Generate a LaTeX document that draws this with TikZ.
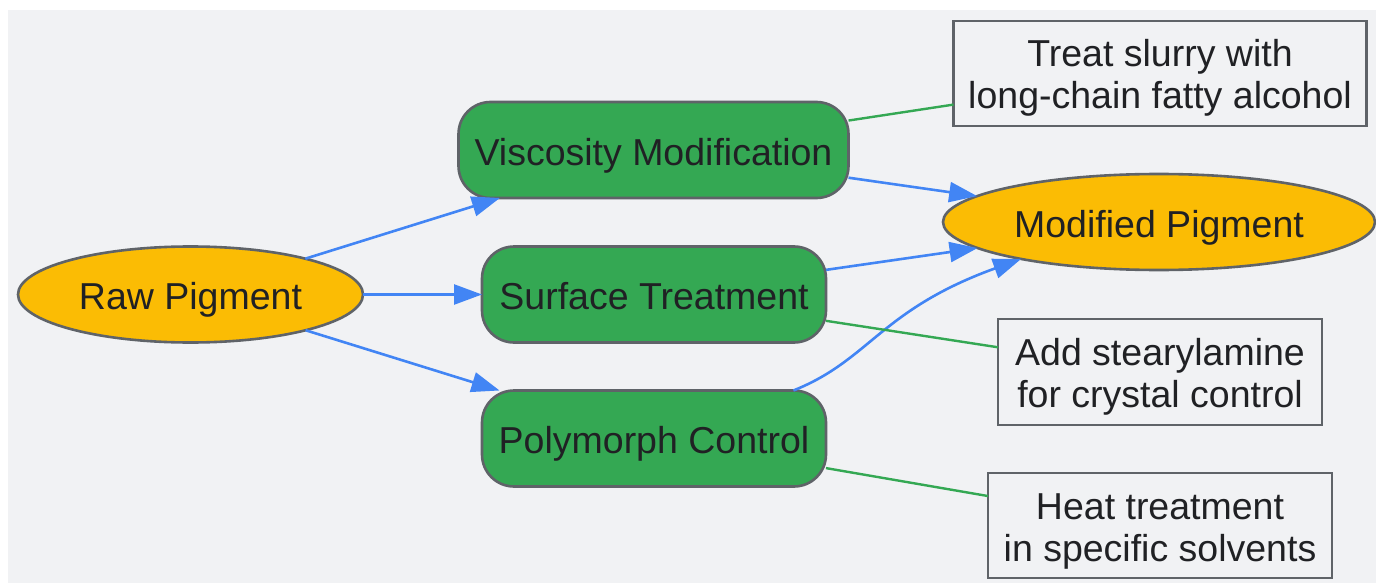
\documentclass[tikz,border=0pt]{standalone}
\usepackage{fontspec}
\setmainfont{Liberation Sans}
\usetikzlibrary{shapes.geometric,arrows.meta}
\definecolor{bgc}{HTML}{F1F2F4}
\definecolor{yel}{HTML}{FBBC04}
\definecolor{grn}{HTML}{34A853}
\definecolor{blu}{HTML}{4285F4}
\definecolor{brd}{HTML}{5F6368}
\definecolor{txt}{HTML}{202124}
\tikzset{
  base/.style={draw=brd, line width=2.6pt, inner sep=0pt, outer sep=0pt, text=txt,
    font=\fontsize{37.5}{42}\selectfont, text height=30pt, text depth=0pt, align=center},
  pig/.style={base, ellipse, fill=yel},
  proc/.style={base, rectangle, rounded corners=32pt, fill=grn, minimum height=96pt},
  note/.style={base, rectangle, fill=bgc, text height=71pt},
  flow/.style={draw=blu, line width=2.6pt, -{Triangle[length=28pt,width=20pt]}},
  link/.style={draw=grn, line width=2.4pt}
}
\begin{document}
\begin{tikzpicture}[x=1pt,y=-1pt]
\useasboundingbox (0,0) rectangle (1376,583);
\fill[bgc] (8,10) rectangle (1376,583);
\node[pig, minimum width=345pt, minimum height=96pt] (raw) at (190.5,294.5) {Raw Pigment};
\node[proc, minimum width=390pt] (visc) at (653.5,150) {Viscosity Modification};
\node[proc, minimum width=344pt] (surf) at (654,294.5) {Surface Treatment};
\node[proc, minimum width=344pt] (poly) at (654,438.5) {Polymorph Control};
\node[pig, minimum width=432pt, minimum height=96pt] (mod) at (1159,222) {Modified Pigment};
\node[note, minimum width=413pt, minimum height=105pt] (treat) at (1160,73.5) {Treat slurry with\\long-chain fatty alcohol};
\node[note, minimum width=324pt, minimum height=106pt] (add) at (1160,372) {Add stearylamine\\for crystal control};
\node[note, minimum width=344pt, minimum height=105pt] (heat) at (1160,525.5) {Heat treatment\\in specific solvents};
\draw[flow] (raw) -- (visc);
\draw[flow] (raw) -- (surf);
\draw[flow] (raw) -- (poly);
\draw[flow] (visc) -- (mod);
\draw[flow] (surf) -- (mod);
\draw[flow] (poly.19) .. controls (870,360) and (880,310) .. (mod.195);
\draw[link] (visc) -- (treat);
\draw[link] (surf) -- (add);
\draw[link] (poly) -- (heat);
\end{tikzpicture}
\end{document}
